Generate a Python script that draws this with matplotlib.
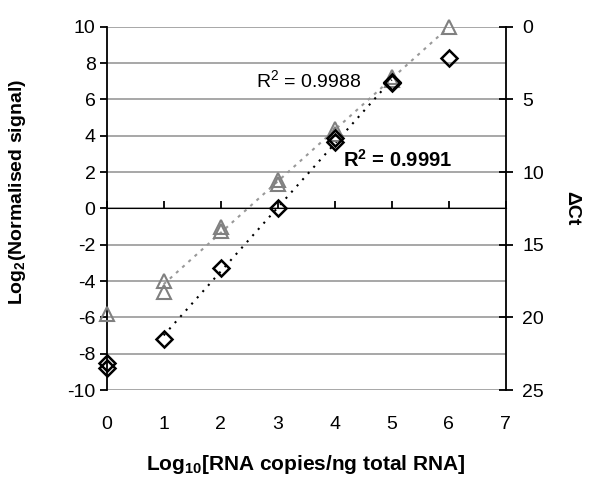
import numpy as np
import matplotlib
matplotlib.use("Agg")
import matplotlib.pyplot as plt
from matplotlib.ticker import NullFormatter

plt.rcParams['font.family'] = ['Liberation Sans', 'DejaVu Sans']
plt.rcParams['mathtext.fontset'] = 'custom'
plt.rcParams['mathtext.rm'] = 'Liberation Sans'
plt.rcParams['mathtext.it'] = 'Liberation Sans:italic'
plt.rcParams['mathtext.bf'] = 'Liberation Sans:bold'
plt.rcParams['axes.unicode_minus'] = False

# Data
x_tri = [0, 1, 1, 2, 2, 3, 3, 4, 4, 5, 5, 6]
y_tri = [-5.8, -4.0, -4.6, -1.0, -1.25, 1.55, 1.35, 4.35, 4.1, 7.25, 7.05, 10.0]
x_dia = [0, 0, 1, 2, 3, 4, 4, 5, 5, 6]
y_dia = [-8.5, -8.8, -7.2, -3.3, 0.0, 3.65, 3.85, 6.95, 6.9, 8.25]
tri_fit_range = (1, 6)
dia_fit_range = (1, 5)
r2_tri = "0.9988"
r2_dia = "0.9991"
xticks = [0, 1, 2, 3, 4, 5, 6, 7]
yticks = [-10, -8, -6, -4, -2, 0, 2, 4, 6, 8, 10]
dct_ticks = [0, 5, 10, 15, 20, 25]

FS = 14
fig = plt.figure(figsize=(6.0, 4.91), dpi=100)
ax = fig.add_axes([0.1778, 0.2057, 0.6650, 0.7399])
ax.set_xlim(0, 7)
ax.set_ylim(-10, 10)

# gridlines
ax.set_yticks(yticks)
ax.yaxis.grid(True, color='#a0a0a0', linewidth=1.3)
ax.set_axisbelow(True)
ax.set_xticks(xticks)
ax.tick_params(axis='x', length=0, pad=19, labelsize=FS)
ax.tick_params(axis='y', direction='out', length=5, width=1.3, labelsize=FS, pad=3)
ax.spines['top'].set_visible(False)
ax.spines['right'].set_visible(False)
ax.spines['bottom'].set_visible(False)
ax.spines['left'].set_linewidth(1.3)

# x axis line crossing at y=0
sec = ax.secondary_xaxis(0.5)
sec.set_xticks(xticks)
sec.xaxis.set_major_formatter(NullFormatter())
sec.tick_params(direction='out', length=5, width=1.3)
sec.spines['bottom'].set_linewidth(1.3)
sec.spines['bottom'].set_color('black')
sec.set_zorder(2)

# right axis
ax2 = ax.twinx()
ax2.set_ylim(25, 0)
ax2.set_yticks(dct_ticks)
ax2.tick_params(axis='y', direction='inout', length=10, width=1.3, labelsize=FS, pad=7)
for s in ['top', 'left', 'bottom']:
    ax2.spines[s].set_visible(False)
ax2.spines['right'].set_linewidth(1.3)
ax2.set_ylabel('ΔCt', fontsize=FS, fontweight='bold', rotation=270, labelpad=26)

# trendlines
xt = np.array(x_tri, float); yt = np.array(y_tri, float)
m = (xt >= tri_fit_range[0]) & (xt <= tri_fit_range[1])
pt = np.polyfit(xt[m], yt[m], 1)
xx = np.array(tri_fit_range, float)
ax.plot(xx, np.polyval(pt, xx), color='#999999', linewidth=1.5,
        linestyle=(0, (1.5, 2.5)), zorder=3)

xd = np.array(x_dia, float); yd = np.array(y_dia, float)
m = (xd >= dia_fit_range[0]) & (xd <= dia_fit_range[1])
pd_ = np.polyfit(xd[m], yd[m], 1)
xx = np.array(dia_fit_range, float)
ax.plot(xx, np.polyval(pd_, xx), color='black', linewidth=1.5,
        linestyle=(0, (1, 3)), zorder=3)

# markers
ax.plot(x_tri, y_tri, linestyle='none', marker='^', markersize=10,
        markerfacecolor='none', markeredgecolor='#808080', markeredgewidth=1.5,
        zorder=4, clip_on=False)
ax.plot(x_dia, y_dia, linestyle='none', marker='D', markersize=8,
        markerfacecolor='none', markeredgecolor='black', markeredgewidth=1.8,
        zorder=5, clip_on=False)

# R^2 labels
ax.text(2.62, 7.05, 'R$^2$ = ' + r2_tri, fontsize=FS, va='center', ha='left')
ax.text(4.15, 2.65, 'R$^\\mathbf{2}$ = ' + r2_dia, fontsize=14.5, fontweight='bold',
        va='center', ha='left')

ax.set_xlabel('Log$_\\mathbf{10}$[RNA copies/ng total RNA]', fontsize=15, fontweight='bold',
              labelpad=14)
ax.set_ylabel('Log$_\\mathbf{2}$(Normalised signal)', fontsize=FS, fontweight='bold')
ax.yaxis.set_label_coords(-0.197, 0.546)

fig.savefig('out.png', dpi=100)
